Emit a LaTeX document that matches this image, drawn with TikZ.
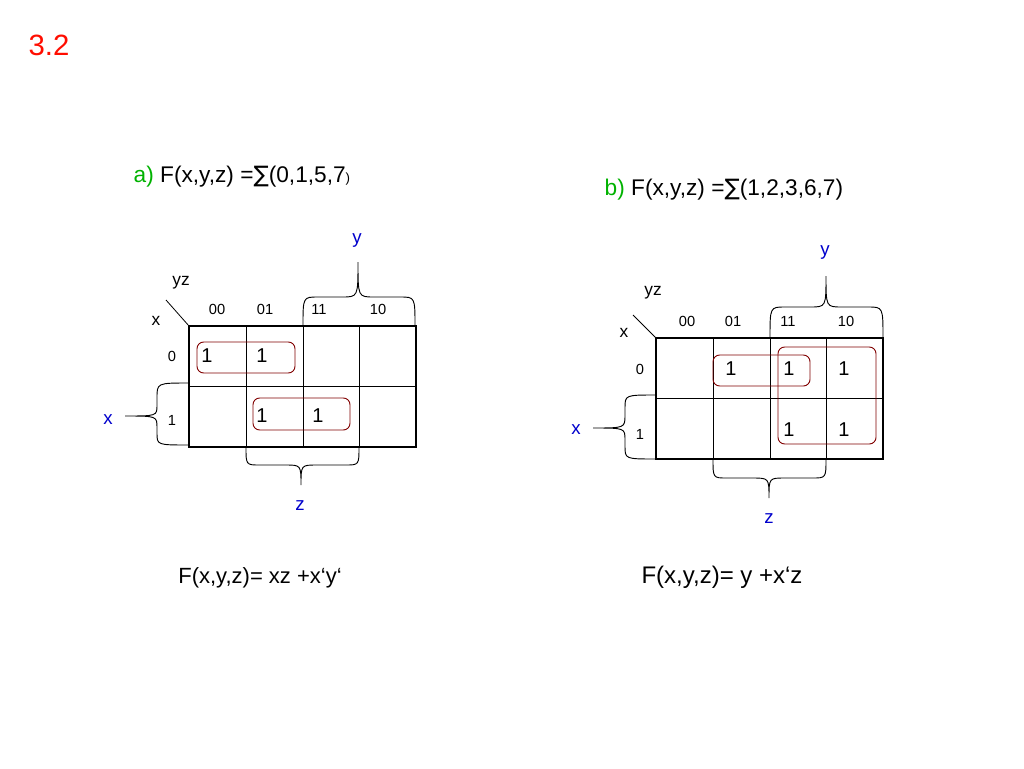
\documentclass[tikz,border=0pt]{standalone}
\usepackage{fontspec}
\setmainfont{Liberation Sans}
\newfontfamily\symf{DejaVu Sans}
\begin{document}
\begin{tikzpicture}[x=0.75pt,y=-0.75pt,
  grid/.style={line width=0.6pt},
  frame/.style={line width=2pt},
  loop/.style={draw=red!50!black,rounded corners=5pt,line width=0.7pt},
  br/.style={line width=0.7pt},
  lbl/.style={font=\fontsize{13}{15}\selectfont},
  hdr/.style={font=\fontsize{11}{13}\selectfont},
  var/.style={font=\fontsize{14}{16}\selectfont,text=blue!80!black},
  one/.style={font=\fontsize{15}{17}\selectfont},
  ttl/.style={font=\fontsize{17}{20}\selectfont,anchor=west}]
\useasboundingbox (0,0) rectangle (1024,768);
\node[font=\fontsize{22}{24}\selectfont,text=red!90!orange] (t) at (49,45) {3.2};
% ---- map a
\node[ttl] (ta) at (129,177) {\textcolor{green!70!black}{a)} F(x,y,z) ={\symf ∑}(0,1,5,7{\fontsize{10}{10}\selectfont)}};
\draw[grid] (246,326)--(246,447) (303,326)--(303,447) (359,326)--(359,447) (189,386)--(416,386);
\draw[frame] (189,326) rectangle (416,447);
\coordinate (da) at (166,300); \coordinate (ca) at (189,326);
\draw[grid] (da)--(ca);
\node[lbl] (yza) at (181,283) {yz};
\node[lbl] (xa) at (156,321) {x};
\node[hdr] at (172,356) {0}; \node[hdr] at (172,420) {1};
\node[hdr] at (217,309) {00}; \node[hdr] at (265,309) {01};
\node[hdr] at (319,309) {11}; \node[hdr] at (378,309) {10};
\foreach \p in {(207,356),(262,356),(262,416),(318,416)} \node[one] at \p {1};
\draw[loop] (197,342) rectangle (295,373);
\draw[loop] (253,398) rectangle (350,430);
% braces a
\draw[br] (303,326) .. controls (303,297) .. (318,297) -- (342,297) .. controls (358,297) .. (358,262)
          .. controls (358,297) .. (374,297) -- (400,297) .. controls (415,297) .. (415,326);
\node[var] (ya) at (357,241) {y};
\draw[br] (189,383) .. controls (157,383) .. (157,398) -- (157,405) .. controls (157,416) .. (125,416)
          .. controls (157,416) .. (157,428) -- (157,433) .. controls (157,445) .. (189,445);
\node[var] (xva) at (108,420) {x};
\draw[br] (246,447) .. controls (246,465) .. (260,465) -- (285,465) .. controls (301,465) .. (301,485)
          .. controls (301,465) .. (317,465) -- (345,465) .. controls (359,465) .. (359,447);
\node[var] (za) at (300,506) {z};
\node[font=\fontsize{16.5}{19}\selectfont] (fa) at (260,578) {F(x,y,z)= xz +x‘y‘};
% ---- map b
\node[ttl] (tb) at (600,190) {\textcolor{green!70!black}{b)} F(x,y,z) ={\symf ∑}(1,2,3,6,7)};
\draw[grid] (713,338)--(713,459) (770,338)--(770,459) (826,338)--(826,459) (656,398)--(883,398);
\draw[frame] (656,338) rectangle (883,459);
\coordinate (db) at (633,315); \coordinate (cb) at (656,338);
\draw[grid] (db)--(cb);
\node[lbl] (yzb) at (653,293) {yz};
\node[lbl] (xb) at (624,333) {x};
\node[hdr] at (640,369) {0}; \node[hdr] at (640,434) {1};
\node[hdr] at (687,321) {00}; \node[hdr] at (733,321) {01};
\node[hdr] at (788,321) {11}; \node[hdr] at (846,321) {10};
\foreach \p in {(731,369),(789,369),(844,369),(789,430),(844,430)} \node[one] at \p {1};
\draw[loop] (713,355) rectangle (810,386);
\draw[loop] (778,347) rectangle (876,444);
\draw[br] (770,338) .. controls (770,307) .. (785,307) -- (810,307) .. controls (826,307) .. (826,276)
          .. controls (826,307) .. (842,307) -- (868,307) .. controls (883,307) .. (883,338);
\node[var] (yb) at (825,252) {y};
\draw[br] (656,395) .. controls (625,395) .. (625,408) -- (625,415) .. controls (625,428) .. (593,428)
          .. controls (625,428) .. (625,440) -- (625,446) .. controls (625,459) .. (656,459);
\node[var] (xvb) at (576,430) {x};
\draw[br] (713,459) .. controls (713,478) .. (727,478) -- (752,478) .. controls (769,478) .. (769,498)
          .. controls (769,478) .. (785,478) -- (812,478) .. controls (826,478) .. (826,459);
\node[var] (zb) at (769,519) {z};
\node[font=\fontsize{18}{21}\selectfont] (fb) at (722,577) {F(x,y,z)= y +x‘z};
\end{tikzpicture}
\end{document}
